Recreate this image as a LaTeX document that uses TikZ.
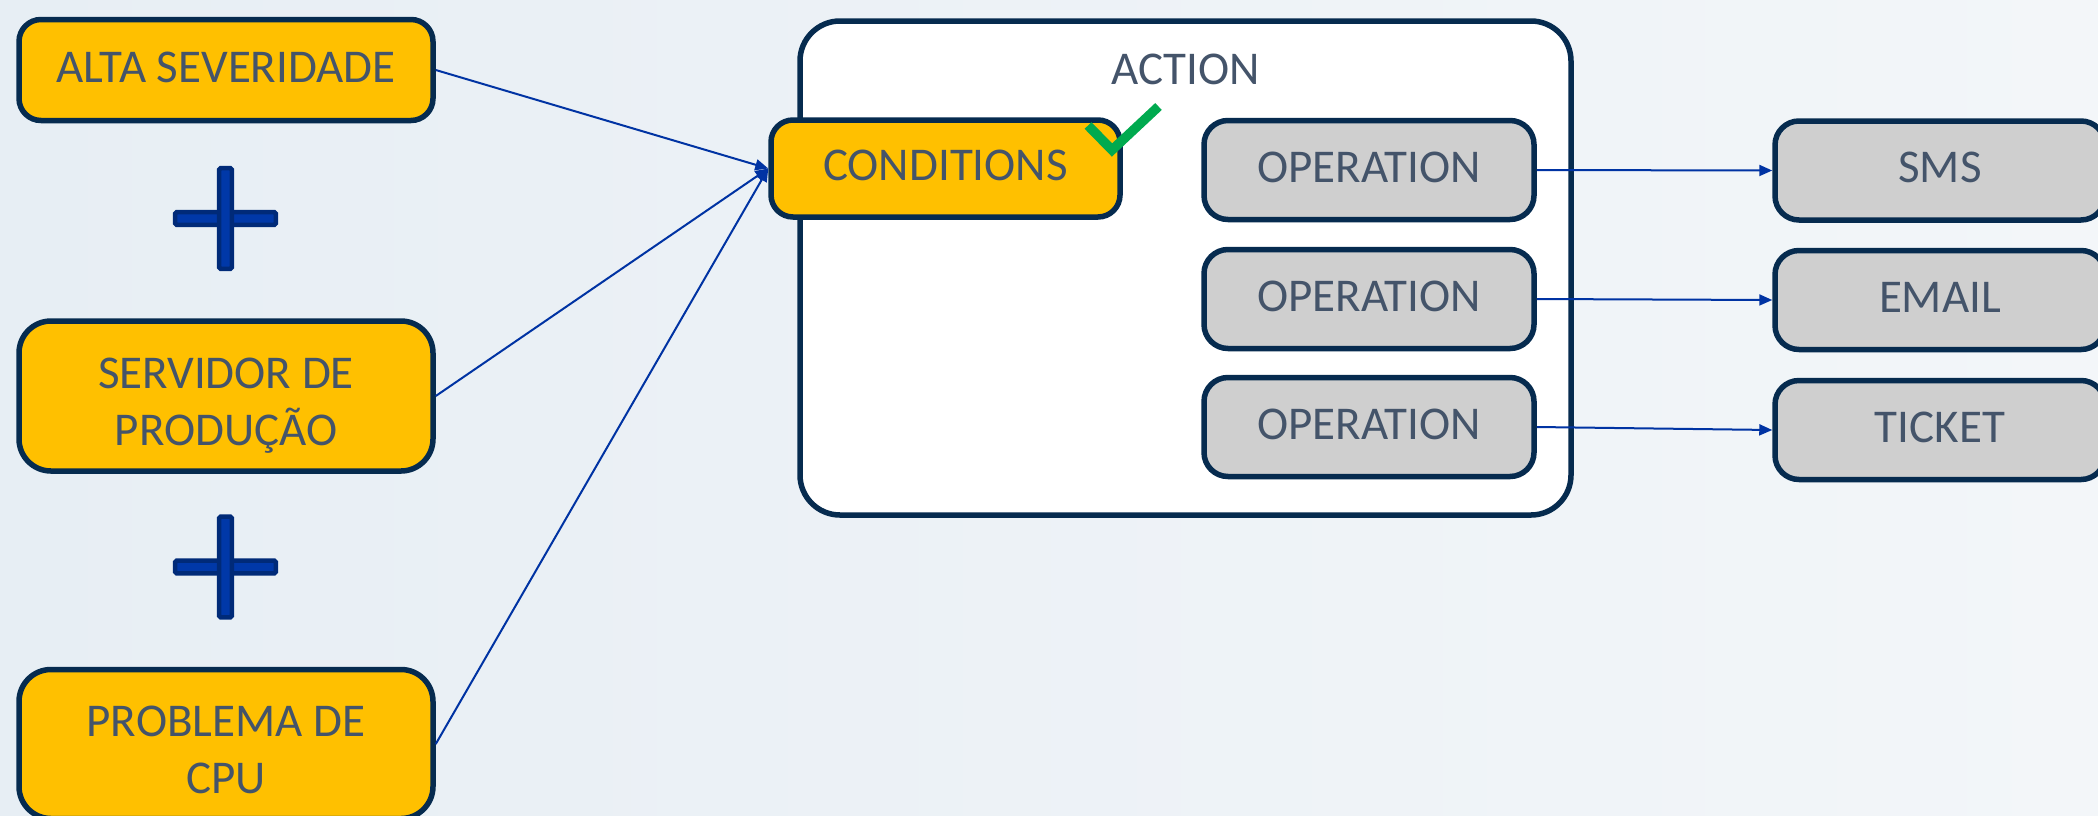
\documentclass[tikz,border=0pt]{standalone}
\usepackage{fontspec}
\setmainfont{Carlito}
\usetikzlibrary{arrows.meta}

\definecolor{navy}{HTML}{062B4F}
\definecolor{txtblue}{HTML}{44546A}
\definecolor{gold}{HTML}{FFC000}
\definecolor{greybox}{HTML}{CFCFCF}
\definecolor{linkblue}{HTML}{0033A3}
\definecolor{plusfill}{HTML}{0038A8}
\definecolor{plusedge}{HTML}{002A78}
\definecolor{checkgreen}{HTML}{00AA4F}
\definecolor{bgleft}{HTML}{E7EEF4}
\definecolor{bgright}{HTML}{F3F6F9}

\tikzset{
  label text/.style={text=txtblue, align=center, inner sep=0pt,
    font=\fontsize{47}{57}\selectfont},
  box/.style={draw=navy, line width=5.5pt, label text,
    text height=24pt, text depth=0pt},
  condbox/.style={box, fill=gold, minimum width=414pt, rounded corners=22pt},
  opbox/.style={box, fill=greybox, minimum width=330pt, minimum height=99pt,
    rounded corners=24pt},
  link/.style={draw=linkblue, line width=2pt,
    -{Triangle[length=13pt,width=11pt]}},
  plusbar/.style={fill=plusfill, draw=plusedge, line width=4.5pt,
    rounded corners=1.5pt},
}

\newcommand{\plussign}[2]{%
  \path[plusbar] (#1-50.3,#2-6.3) rectangle (#1+50.3,#2+6.3);
  \path[plusbar] (#1-6.3,#2-50.3) rectangle (#1+6.3,#2+50.3);
}

\begin{document}
\begin{tikzpicture}[x=1pt,y=-1pt]
  % page and background
  \useasboundingbox (0,0) rectangle (2098,815);
  \clip (0,0) rectangle (2098,815);
  \shade[left color=bgleft, right color=bgright] (0,0) rectangle (2098,815);

  % trigger conditions on the left
  \node[condbox, minimum height=101pt] (alta) at (226,70) {ALTA SEVERIDADE};
  \node[condbox, minimum height=150pt, rounded corners=32pt] (servidor) at (226,396) {};
  \node[label text] (servidortxt) at ([yshift=-10pt]servidor.center)
    {SERVIDOR DE\\PRODUÇÃO};
  \node[condbox, minimum height=149pt, rounded corners=32pt] (problema) at (226,744) {};
  \node[label text] (problematxt) at ([yshift=-6pt]problema.center)
    {PROBLEMA DE\\CPU};

  \plussign{225.5}{218.5}
  \plussign{225.5}{567}

  % action container
  \node[draw=navy, line width=5.5pt, fill=white, rounded corners=40pt,
    minimum width=771pt, minimum height=494pt, inner sep=0pt] (action) at (1185.5,268) {};
  \node[label text] (actionlbl) at (1186,69) {ACTION};

  \node[box, fill=gold, minimum width=349pt, minimum height=97pt, rounded corners=22pt]
    (cond) at (945.5,168.5) {CONDITIONS};

  \node[opbox] (op1) at (1369,170) {OPERATION};
  \node[opbox] (op2) at (1369,299) {OPERATION};
  \node[opbox] (op3) at (1369,427) {OPERATION};

  % check mark on the conditions box
  \draw[checkgreen, line width=9.5pt, line join=miter]
    (1088,125.5) -- (1112,150) -- (1158.5,106.5);

  % outputs
  \node[opbox] (sms) at (1940,170.5) {SMS};
  \node[opbox] (email) at (1940,300) {EMAIL};
  \node[opbox] (ticket) at (1940,430) {TICKET};

  % connectors
  \draw[link] (alta.east) -- (cond.west);
  \draw[link] (servidor.east) -- (cond.west);
  \draw[link] (problema.east) -- (cond.west);
  \draw[link] (op1.east) -- (sms.west);
  \draw[link] (op2.east) -- (email.west);
  \draw[link] (op3.east) -- (ticket.west);
\end{tikzpicture}
\end{document}
